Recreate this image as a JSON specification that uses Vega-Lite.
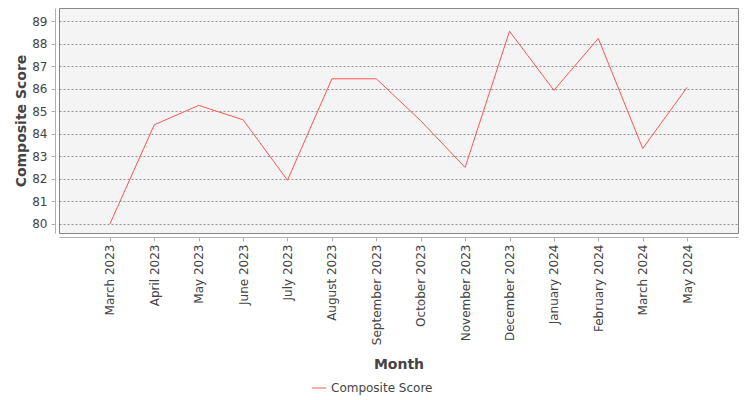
{
  "$schema": "https://vega.github.io/schema/vega-lite/v6.json",
  "description": "Composite score by month, line chart.",
  "width": 679,
  "height": 225,
  "autosize": {"type": "none"},
  "padding": {"left": 59, "top": 8, "right": 12, "bottom": 167},
  "background": "white",
  "data": {
    "values": [
      {"month": "March 2023", "score": 80.0},
      {"month": "April 2023", "score": 84.40},
      {"month": "May 2023", "score": 85.26},
      {"month": "June 2023", "score": 84.62},
      {"month": "July 2023", "score": 81.94},
      {"month": "August 2023", "score": 86.44},
      {"month": "September 2023", "score": 86.44},
      {"month": "October 2023", "score": 84.58},
      {"month": "November 2023", "score": 82.51},
      {"month": "December 2023", "score": 88.55},
      {"month": "January 2024", "score": 85.93},
      {"month": "February 2024", "score": 88.23},
      {"month": "March 2024", "score": 83.35},
      {"month": "May 2024", "score": 86.06}
    ]
  },
  "mark": {"type": "line", "strokeWidth": 1, "interpolate": "linear"},
  "encoding": {
    "x": {
      "field": "month",
      "type": "nominal",
      "sort": null,
      "title": "Month",
      "scale": {
        "type": "point",
        "padding": 0.146,
        "domain": ["", "March 2023", "April 2023", "May 2023", "June 2023", "July 2023", "August 2023", "September 2023", "October 2023", "November 2023", "December 2023", "January 2024", "February 2024", "March 2024", "May 2024", " "]
      },
      "axis": {
        "labelAngle": -90,
        "labelAlign": "right",
        "labelBaseline": "middle",
        "labelPadding": 3,
        "offset": 4,
        "tickSize": 4,
        "tickOpacity": {"condition": {"test": "trim(datum.value) == ''", "value": 0}, "value": 1},
        "titlePadding": 13
      }
    },
    "y": {
      "field": "score",
      "type": "quantitative",
      "title": "Composite Score",
      "scale": {"domain": [79.6, 89.58], "nice": false, "zero": false},
      "axis": {
        "values": [80, 81, 82, 83, 84, 85, 86, 87, 88, 89],
        "offset": 4,
        "tickSize": 4,
        "labelPadding": 4,
        "titlePadding": 3,
        "grid": true,
        "gridColor": "#7a7a7a",
        "gridDash": [2, 2],
        "gridWidth": 0.8
      }
    },
    "color": {
      "datum": "Composite Score",
      "type": "nominal",
      "scale": {"range": ["#ff5555"]},
      "legend": {
        "title": null,
        "orient": "none",
        "legendX": 252,
        "legendY": 372,
        "symbolType": "stroke",
        "symbolStrokeWidth": 1,
        "symbolSize": 200,
        "labelFontSize": 12,
        "labelColor": "#444444",
        "labelFont": "DejaVu Sans"
      }
    }
  },
  "config": {
    "font": "DejaVu Sans",
    "view": {"fill": "#f4f4f4", "stroke": "#888888", "strokeWidth": 1},
    "axis": {
      "labelFont": "DejaVu Sans",
      "labelFontSize": 12,
      "labelColor": "#444444",
      "titleFont": "DejaVu Sans",
      "titleFontSize": 14,
      "titleFontWeight": "bold",
      "titleColor": "#444444",
      "domainColor": "#b0b0b0",
      "tickColor": "#b0b0b0",
      "grid": false
    }
  }
}
